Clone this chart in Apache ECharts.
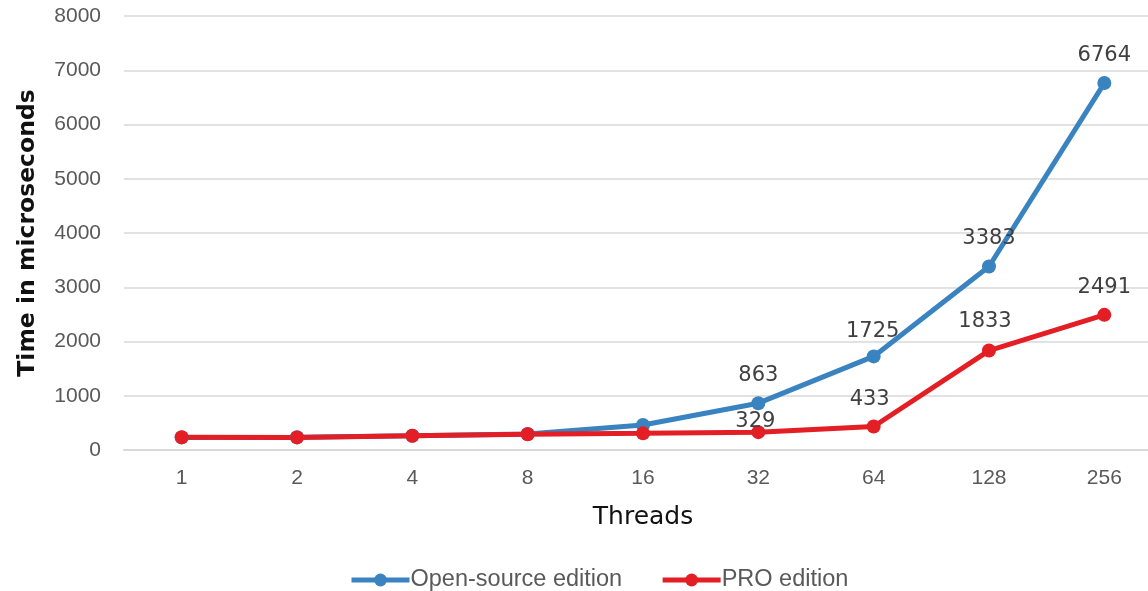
<!DOCTYPE html>
<html><head><meta charset="utf-8">
<script src="https://cdn.jsdelivr.net/npm/echarts@6/dist/echarts.min.js"></script>
<style>html,body{margin:0;padding:0;background:#fff;overflow:hidden;width:1148px;height:591px}#c{width:1162px;height:591px}</style>
</head><body><div id="c"></div>
<script>
const categories = ['1','2','4','8','16','32','64','128','256'];
const openSource = [232, 236, 262, 295, 460, 863, 1725, 3383, 6764];
const pro = [234, 232, 264, 289, 307, 329, 433, 1833, 2491];
const labelledFrom = 5;
const yTicks = {min: 0, max: 8000, interval: 1000};

const chart = echarts.init(document.getElementById('c'));
function mk(vals, offsets) {
  return vals.map((v, i) => ({
    value: v,
    label: {show: i >= labelledFrom, offset: offsets[i] || [0, 0]}
  }));
}
const numFont = {fontFamily: 'DejaVu Sans', fontSize: 21, color: '#404040'};
chart.setOption({
  animation: false,
  grid: {left: 124, right: 0, top: 16, bottom: 141},
  legend: {
    top: 563, left: 344, itemWidth: 58, itemHeight: 16, itemGap: 38,
    lineStyle: {width: 5},
    textStyle: {fontFamily: 'Liberation Sans', fontSize: 23.5, color: '#595959', padding: [0, 0, 0, -4]},
    data: ['Open-source edition', 'PRO edition']
  },
  xAxis: {
    type: 'category', data: categories, boundaryGap: true,
    name: 'Threads', nameLocation: 'middle', nameGap: 55,
    nameTextStyle: {fontFamily: 'DejaVu Sans', fontSize: 25, fontWeight: 500, color: '#111'},
    axisLine: {lineStyle: {color: '#d9d9d9', width: 2}},
    axisTick: {show: false},
    axisLabel: {fontFamily: 'Liberation Sans', fontSize: 21, color: '#595959', margin: 18}
  },
  yAxis: {
    type: 'value', min: yTicks.min, max: yTicks.max, interval: yTicks.interval,
    name: 'Time in microseconds', nameLocation: 'middle', nameGap: 84, nameRotate: 90,
    nameTextStyle: {fontFamily: 'DejaVu Sans', fontSize: 23.5, fontWeight: 'bold', color: '#111'},
    axisLine: {show: false}, axisTick: {show: false},
    splitLine: {lineStyle: {color: '#d9d9d9', width: 1.5}},
    axisLabel: {fontFamily: 'Liberation Sans', fontSize: 21, color: '#595959', margin: 23,
      formatter: v => String(v)}
  },
  series: [
    {
      name: 'Open-source edition', type: 'line', data: mk(openSource, {6: [-1, 3]}),
      symbol: 'circle', symbolSize: 14, color: '#3A83C1',
      lineStyle: {width: 5, color: '#3A83C1'},
      label: Object.assign({position: 'top', distance: 10}, numFont)
    },
    {
      name: 'PRO edition', type: 'line', data: mk(pro, {5: [-3, 17], 6: [-4, 1], 7: [-4, -2]}),
      symbol: 'circle', symbolSize: 14, color: '#E31E24',
      lineStyle: {width: 5, color: '#E31E24'},
      label: Object.assign({position: 'top', distance: 10}, numFont)
    }
  ]
});
</script></body></html>
